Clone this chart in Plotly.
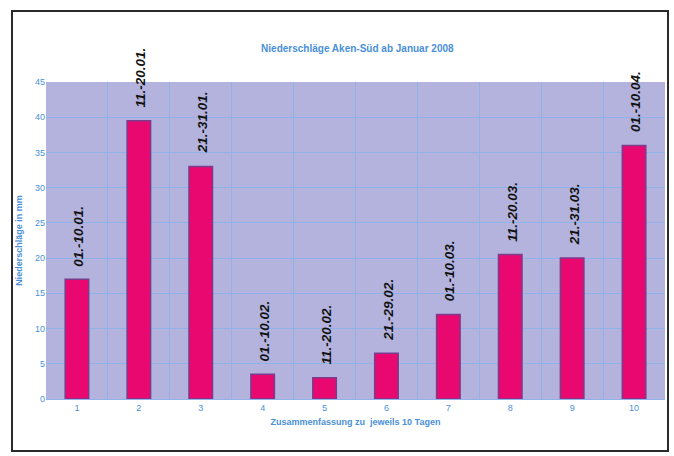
import plotly.graph_objects as go

categories = [1, 2, 3, 4, 5, 6, 7, 8, 9, 10]
values = [17, 39.5, 33, 3.5, 3, 6.5, 12, 20.5, 20, 36]
labels = ["01.-10.01.", "11.-20.01.", "21.-31.01.", "01.-10.02.", "11.-20.02.",
          "21.-29.02.", "01.-10.03.", "11.-20.03.", "21.-31.03.", "01.-10.04."]
y_ticks = [0, 5, 10, 15, 20, 25, 30, 35, 40, 45]

blue = "#4a8fd8"
grid = "#8fb2ea"
font_family = "Liberation Sans, Arial"

fig = go.Figure()
fig.add_trace(go.Bar(
    x=categories, y=values, width=0.38,
    marker=dict(color="#e8086f", line=dict(color="#7a3c8c", width=1.5)),
    hoverinfo="skip",
))

for c, v, t in zip(categories, values, labels):
    fig.add_annotation(
        x=c, y=v, text="<b><i>" + t + "</i></b>", textangle=-90, showarrow=False,
        xanchor="center", yanchor="bottom", yshift=11, xshift=2,
        font=dict(family=font_family, size=13.5, color="#111111"),
    )

fig.update_layout(
    width=674, height=456,
    margin=dict(l=46, r=9, t=82, b=57),
    paper_bgcolor="white",
    plot_bgcolor="#b4b3de",
    showlegend=False,
    title=dict(text="<b>Niederschläge Aken-Süd ab Januar 2008</b>",
               x=0.503, xref="paper", xanchor="center", y=1 - 48 / 456, yanchor="middle",
               font=dict(family=font_family, size=10, color=blue)),
    xaxis=dict(range=[0.5, 10.5], tickvals=categories, ticktext=[str(c) for c in categories],
               showgrid=False, zeroline=False, showline=True, linecolor=grid, linewidth=1,
               ticks="", tickfont=dict(family=font_family, size=9, color=blue),
               minor=dict(tickvals=[i + 0.5 for i in range(0, 11)], showgrid=True,
                          gridcolor=grid, gridwidth=1),
               title=dict(text="<b>Zusammenfassung zu  jeweils 10 Tagen</b>", standoff=6,
                          font=dict(family=font_family, size=9, color=blue))),
    yaxis=dict(range=[0, 45], tickvals=y_ticks, showgrid=True, gridcolor=grid, gridwidth=1,
               zeroline=False, showline=False, ticks="",
               tickfont=dict(family=font_family, size=9, color=blue),
               title=dict(text="<b>Niederschläge in mm</b>", standoff=10,
                          font=dict(family=font_family, size=9, color=blue))),
)

# outer frame
fig.add_shape(type="rect", xref="paper", yref="paper",
              x0=(12 - 46) / 619, x1=(668 - 46) / 619,
              y0=(399 - 451) / 317, y1=(399 - 11) / 317,
              line=dict(color="#2a2a2a", width=2), fillcolor="rgba(0,0,0,0)", layer="above")

fig.write_html("out.html")
